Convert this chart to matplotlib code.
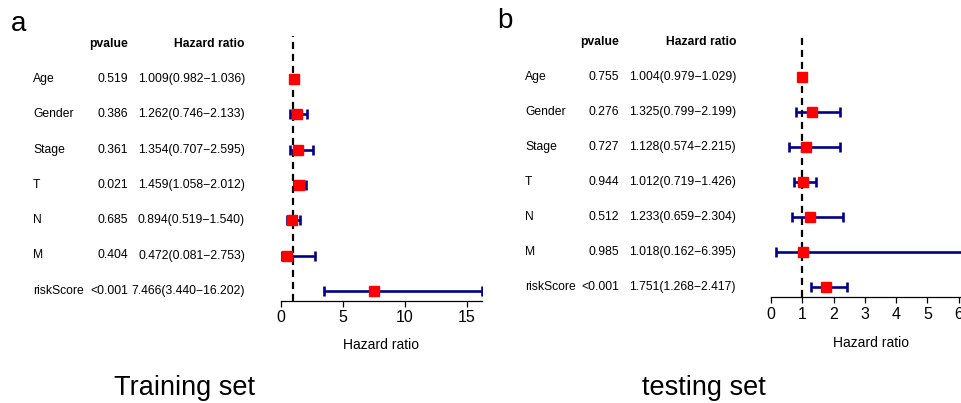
import matplotlib

matplotlib.use("Agg")
import matplotlib.pyplot as plt
from matplotlib.transforms import blended_transform_factory

plt.rcParams["font.family"] = ["Liberation Sans", "DejaVu Sans"]

variables = ["Age", "Gender", "Stage", "T", "N", "M", "riskScore"]

train_pvalue = ["0.519", "0.386", "0.361", "0.021", "0.685", "0.404", "<0.001"]
train_hr = [1.009, 1.262, 1.354, 1.459, 0.894, 0.472, 7.466]
train_low = [0.982, 0.746, 0.707, 1.058, 0.519, 0.081, 3.440]
train_high = [1.036, 2.133, 2.595, 2.012, 1.540, 2.753, 16.202]
train_ticks = [0, 5, 10, 15]

test_pvalue = ["0.755", "0.276", "0.727", "0.944", "0.512", "0.985", "<0.001"]
test_hr = [1.004, 1.325, 1.128, 1.012, 1.233, 1.018, 1.751]
test_low = [0.979, 0.799, 0.574, 0.719, 0.659, 0.162, 1.268]
test_high = [1.029, 2.199, 2.215, 1.426, 2.304, 6.395, 2.417]
test_ticks = [0, 1, 2, 3, 4, 5, 6]

W, H = 962, 403
fig = plt.figure(figsize=(W / 100, H / 100), dpi=100)


def px_axes(left, top, right, bottom):
    return fig.add_axes([left / W, 1 - bottom / H, (right - left) / W, (bottom - top) / H])


def forest(panel, title, px, pvals, hr, low, high, ticks, y0, step, axis_y, top_y,
           label_x, pval_x, hr_x, letter_x, letter_y, title_x, labelpad):
    xmax = max(high)
    right = px["zero"] + xmax * px["unit"]
    ax = px_axes(px["zero"], top_y, right, axis_y)
    n = len(variables)
    rows = list(range(n))
    ax.set_xlim(0, xmax)
    ax.set_ylim((axis_y - y0) / step, (top_y - y0) / step)

    # reference line at HR = 1
    ax.axvline(1, color="black", linestyle=(0, (3.2, 2.2)), linewidth=1.6)
    xerr = [[h - lo for h, lo in zip(hr, low)], [hi - h for h, hi in zip(hr, high)]]
    ax.errorbar(hr, rows, xerr=xerr, fmt="none", ecolor="#00008B",
                elinewidth=1.9, capsize=3.5, capthick=1.9, zorder=2)
    ax.plot(hr, rows, "s", color="red", markersize=7.6, zorder=3)

    for side in ["top", "right", "left"]:
        ax.spines[side].set_visible(False)
    ax.spines["bottom"].set_linewidth(0.9)
    ax.spines["bottom"].set_bounds(0, xmax)
    ax.set_yticks([])
    ax.set_xticks(ticks)
    ax.tick_params(axis="x", length=4, width=0.9, pad=3, labelsize=11.5)
    ax.set_xlabel("Hazard ratio", fontsize=10, labelpad=labelpad)

    tr = blended_transform_factory(fig.transFigure, ax.transData)
    for i in rows:
        ax.text(label_x / W, i, variables[i], transform=tr, ha="left", va="center",
                fontsize=8.7, clip_on=False)
        ax.text(pval_x / W, i, pvals[i], transform=tr, ha="right", va="center",
                fontsize=8.7, clip_on=False)
        ax.text(hr_x / W, i, f"{hr[i]:.3f}({low[i]:.3f}\u2212{high[i]:.3f})",
                transform=tr, ha="right", va="center", fontsize=8.7, clip_on=False)
    ax.text(pval_x / W, -1, "pvalue", transform=tr, ha="right", va="center",
            fontsize=8.7, fontweight="bold", clip_on=False)
    ax.text(hr_x / W, -1, "Hazard ratio", transform=tr, ha="right", va="center",
            fontsize=8.7, fontweight="bold", clip_on=False)

    fig.text(letter_x / W, 1 - letter_y / H, panel, fontsize=20, ha="left", va="center")
    fig.text(title_x / W, 1 - 388 / H, title, fontsize=19.5, ha="center", va="center")


forest("a", "Training set", {"zero": 281, "unit": 12.4},
       train_pvalue, train_hr, train_low, train_high, train_ticks,
       y0=79, step=35.3, axis_y=300.5, top_y=36,
       label_x=33, pval_x=128, hr_x=245, letter_x=11, letter_y=24, title_x=184,
       labelpad=9)

forest("b", "testing set", {"zero": 771, "unit": 31.3},
       test_pvalue, test_hr, test_low, test_high, test_ticks,
       y0=77, step=35.0, axis_y=297, top_y=33,
       label_x=525, pval_x=619, hr_x=736, letter_x=497, letter_y=21, title_x=704,
       labelpad=10)

fig.savefig("out.png", dpi=100)
